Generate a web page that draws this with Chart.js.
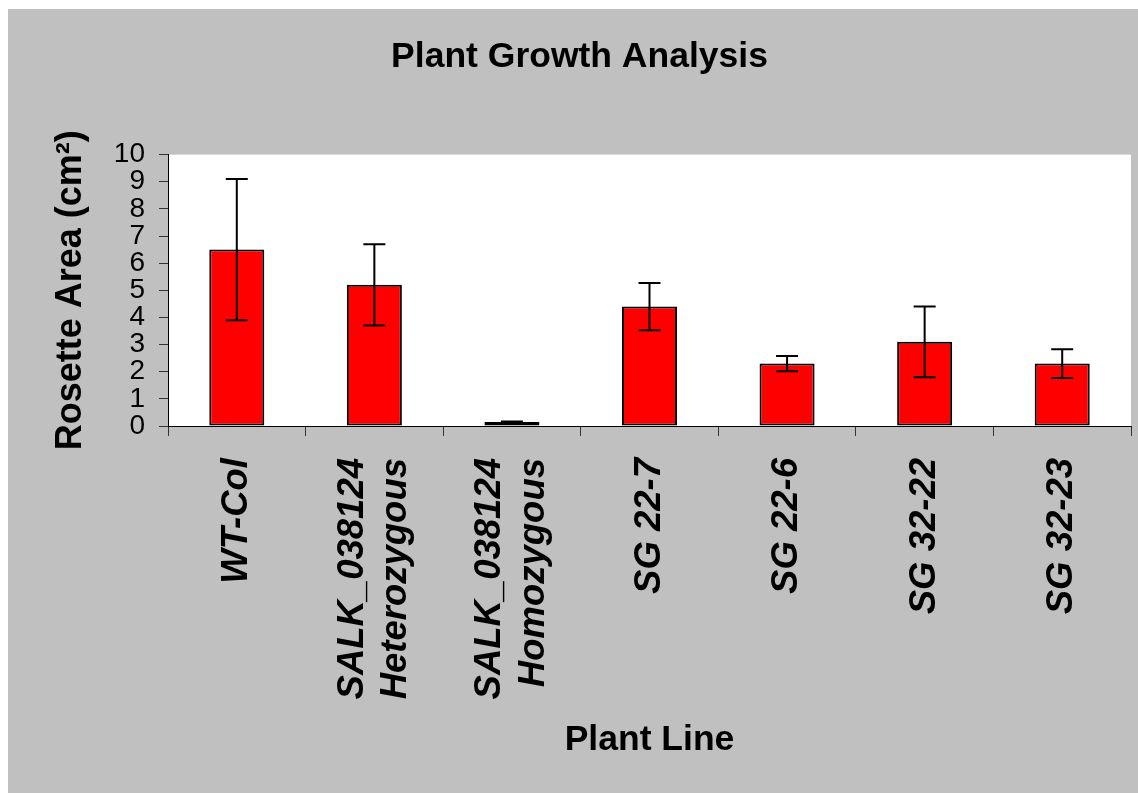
<!DOCTYPE html>
<html>
<head>
<meta charset="utf-8">
<script src="https://cdn.jsdelivr.net/npm/chart.js@4/dist/chart.umd.min.js"></script>
<style>
  body { margin: 0; background: #ffffff; }
  #wrap { position: absolute; left: 8px; top: 9px; width: 1130px; height: 784px; }
</style>
</head>
<body>
<div id="wrap"><canvas id="chart"></canvas></div>
<script>
// plant lines and rosette area (cm2)
const plantLines = [
    'WT-Col',
    ['SALK_038124', 'Heterozygous'],
    ['SALK_038124', 'Homozygous'],
    'SG 22-7',
    'SG 22-6',
    'SG 32-22',
    'SG 32-23'
];
const rosetteArea = [6.5, 5.2, 0.15, 4.4, 2.3, 3.1, 2.3];
const rosetteError = [2.6, 1.5, 0.02, 0.87, 0.28, 1.3, 0.53];
const yTicks = [0, 1, 2, 3, 4, 5, 6, 7, 8, 9, 10];

const FONT = "'Liberation Sans', Arial, sans-serif";

// gray page, white plot area
const backgroundPlugin = {
    id: 'background',
    afterLayout(chart) {
        // title sits a little right of the canvas centre in the original
        chart.titleBlock.left += 20;
    },
    beforeDraw(chart) {
        const { ctx, chartArea } = chart;
        ctx.save();
        ctx.fillStyle = '#c0c0c0';
        ctx.fillRect(0, 0, chart.width, chart.height);
        ctx.fillStyle = '#ffffff';
        ctx.fillRect(chartArea.left, chartArea.top, chartArea.right - chartArea.left, chartArea.bottom - chartArea.top);
        ctx.restore();
    }
};

// two-line category labels: centre the block of lines on the tick
const centerLabelsPlugin = {
    id: 'centerLabels',
    beforeDraw(chart) {
        const scale = chart.scales.x;
        const items = scale.getLabelItems();
        const lh = scale.options.ticks.font.size * 1.2;
        items.forEach(item => {
            if (Array.isArray(item.label) && !item._shifted) {
                item.options.translation[0] -= (item.label.length - 1) * lh / 2;
                item._shifted = true;
            }
        });
    }
};

// error bars drawn through the y scale
const errorBarPlugin = {
    id: 'errorBars',
    afterDatasetsDraw(chart) {
        const { ctx } = chart;
        const yScale = chart.scales.y;
        const meta = chart.getDatasetMeta(0);
        ctx.save();
        ctx.strokeStyle = '#000000';
        ctx.lineWidth = 2;
        meta.data.forEach((bar, i) => {
            const top = yScale.getPixelForValue(rosetteArea[i] + rosetteError[i]);
            const bottom = yScale.getPixelForValue(rosetteArea[i] - rosetteError[i]);
            const cap = 11;
            ctx.beginPath();
            ctx.moveTo(bar.x, top);
            ctx.lineTo(bar.x, bottom);
            ctx.moveTo(bar.x - cap, top);
            ctx.lineTo(bar.x + cap, top);
            ctx.moveTo(bar.x - cap, bottom);
            ctx.lineTo(bar.x + cap, bottom);
            ctx.stroke();
        });
        ctx.restore();
    }
};

new Chart(document.getElementById('chart').getContext('2d'), {
    type: 'bar',
    data: {
        labels: plantLines,
        datasets: [{
            label: 'Rosette Area',
            data: rosetteArea,
            backgroundColor: '#ff0000',
            borderColor: '#000000',
            borderWidth: 2,
            borderSkipped: false,
            barPercentage: 0.4,
            categoryPercentage: 1.0
        }]
    },
    options: {
        responsive: true,
        maintainAspectRatio: false,
        animation: false,
        layout: { padding: { left: 0, right: 7, top: 0, bottom: 0 } },
        plugins: {
            legend: { display: false },
            tooltip: { enabled: false },
            title: {
                display: true,
                text: 'Plant Growth Analysis',
                color: '#000000',
                font: { family: FONT, size: 35.5, weight: 'bold' },
                padding: { top: 27, bottom: 76 }
            }
        },
        scales: {
            x: {
                afterFit(scale) { scale.height = 367; },
                border: { display: true, color: '#000000', width: 1 },
                grid: {
                    display: true,
                    drawOnChartArea: false,
                    drawTicks: true,
                    tickLength: 10,
                    color: '#333333'
                },
                ticks: {
                    autoSkip: false,
                    minRotation: 90,
                    maxRotation: 90,
                    padding: 22,
                    color: '#000000',
                    font: { family: FONT, size: 36.5, weight: 'bold', style: 'italic' }
                },
                title: {
                    display: true,
                    text: 'Plant Line',
                    color: '#000000',
                    font: { family: FONT, size: 35.5, weight: 'bold' },
                    padding: { top: 0, bottom: 31 }
                }
            },
            y: {
                min: 0,
                max: 10,
                afterFit(scale) { scale.width = 160; },
                afterBuildTicks(scale) { scale.ticks = yTicks.map(v => ({ value: v })); },
                border: { display: true, color: '#000000', width: 1 },
                grid: {
                    display: true,
                    drawOnChartArea: false,
                    drawTicks: true,
                    tickLength: 9,
                    color: '#333333'
                },
                ticks: {
                    autoSkip: false,
                    padding: 14,
                    color: '#000000',
                    font: { family: FONT, size: 28 }
                },
                title: {
                    display: true,
                    text: 'Rosette Area (cm²)',
                    color: '#000000',
                    font: { family: FONT, size: 36, weight: 'bold' },
                    padding: { top: 41, bottom: 0 }
                }
            }
        }
    },
    plugins: [backgroundPlugin, centerLabelsPlugin, errorBarPlugin]
});
</script>
</body>
</html>
